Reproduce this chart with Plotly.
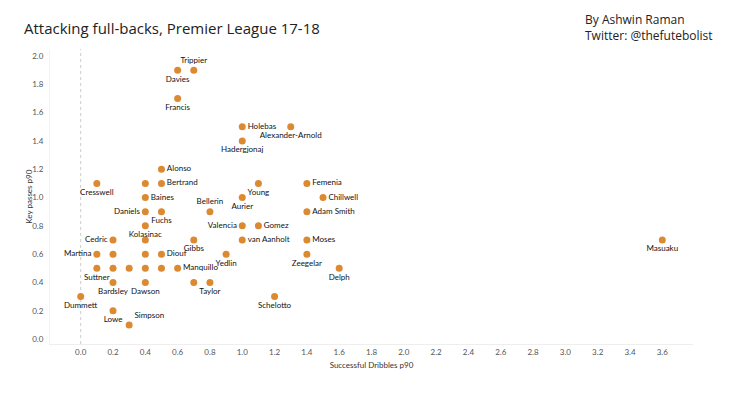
import plotly.graph_objects as go

players = ["Trippier", "Davies", "Francis", "Holebas", "Alexander-Arnold", "Hadergjonaj",
           "Alonso", "Bertrand", "", "Cresswell", "Young", "Femenia",
           "Baines", "Aurier", "Chillwell", "Daniels", "Fuchs", "Bellerin", "Adam Smith",
           "Kolasinac", "Valencia", "Gomez", "Cedric", "", "Gibbs", "van Aanholt", "Moses",
           "Masuaku", "Martina", "", "", "Diouf", "Yedlin", "Zeegelar",
           "Suttner", "", "", "", "", "Manquillo", "Delph",
           "Bardsley", "Dawson", "", "Taylor", "Dummett", "Schelotto", "Lowe", "Simpson"]
dribbles_p90 = [0.7, 0.6, 0.6, 1.0, 1.3, 1.0,
                0.5, 0.5, 0.4, 0.1, 1.1, 1.4,
                0.4, 1.0, 1.5, 0.4, 0.5, 0.8, 1.4,
                0.4, 1.0, 1.1, 0.2, 0.4, 0.7, 1.0, 1.4,
                3.6, 0.1, 0.2, 0.4, 0.5, 0.9, 1.4,
                0.1, 0.2, 0.3, 0.4, 0.5, 0.6, 1.6,
                0.2, 0.4, 0.7, 0.8, 0.0, 1.2, 0.2, 0.3]
key_passes_p90 = [1.9, 1.9, 1.7, 1.5, 1.5, 1.4,
                  1.2, 1.1, 1.1, 1.1, 1.1, 1.1,
                  1.0, 1.0, 1.0, 0.9, 0.9, 0.9, 0.9,
                  0.8, 0.8, 0.8, 0.7, 0.7, 0.7, 0.7, 0.7,
                  0.7, 0.6, 0.6, 0.6, 0.6, 0.6, 0.6,
                  0.5, 0.5, 0.5, 0.5, 0.5, 0.5, 0.5,
                  0.4, 0.4, 0.4, 0.4, 0.3, 0.3, 0.2, 0.1]
x_ticks = [round(i * 0.2, 1) for i in range(19)]
y_ticks = [round(i * 0.2, 1) for i in range(11)]

# label placement (style)
label_pos = ["top center", "bottom center", "bottom center", "middle right", "bottom center", "bottom center",
             "middle right", "middle right", "middle right", "bottom center", "bottom center", "middle right",
             "middle right", "bottom center", "middle right", "middle left", "bottom center", "top center", "middle right",
             "bottom center", "middle left", "middle right", "middle left", "middle right", "bottom center", "middle right", "middle right",
             "bottom center", "middle left", "middle right", "middle right", "middle right", "bottom center", "bottom center",
             "bottom center", "middle right", "middle right", "middle right", "middle right", "middle right", "bottom center",
             "bottom center", "bottom center", "middle right", "bottom center", "bottom center", "bottom center", "bottom center", "top right"]

LABEL_FONT = "Lato, 'Open Sans', sans-serif"

fig = go.Figure()
fig.add_trace(go.Scatter(
    x=dribbles_p90, y=key_passes_p90, text=players, mode="markers+text",
    textposition=label_pos,
    textfont=dict(family=LABEL_FONT, size=8, color="#111111"),
    marker=dict(size=7, color="#dc8a32", line=dict(width=0)),
    hoverinfo="skip", showlegend=False, cliponaxis=False,
))

fig.add_shape(type="line", xref="x", yref="paper", x0=0, x1=0, y0=0, y1=1,
              line=dict(color="#cccccc", width=1, dash="dot"), layer="below")

fig.update_layout(
    width=730, height=397,
    margin=dict(l=50, r=37, t=49, b=53),
    paper_bgcolor="white", plot_bgcolor="white",
    hovermode=False,
    font=dict(family=LABEL_FONT, color="#333"),
    xaxis=dict(range=[-0.19, 3.79], tickvals=x_ticks, ticktext=[f"{v:.1f}" for v in x_ticks],
               showgrid=False, zeroline=False, showline=True, linecolor="#eeeeee", linewidth=1,
               ticks="", tickfont=dict(size=8, color="#555"), automargin=False,
               title=dict(text="Successful Dribbles p90", font=dict(size=8, color="#333"), standoff=6)),
    yaxis=dict(range=[-0.035, 2.05], tickvals=y_ticks, ticktext=[f"{v:.1f}" for v in y_ticks],
               showgrid=False, zeroline=False, showline=True, linecolor="#f2f2f2", linewidth=1,
               ticks="", tickfont=dict(size=8, color="#555"), ticklabelstandoff=4, automargin=False),
    annotations=[
        dict(text="Key passes p90", xref="paper", yref="paper", x=-0.034, y=0.5,
             xanchor="center", yanchor="middle", textangle=-90, showarrow=False,
             font=dict(family=LABEL_FONT, size=8, color="#333")),
        dict(text="Attacking full-backs, Premier League 17-18", xref="paper", yref="paper",
             x=-0.0435, y=1.0, xanchor="left", yanchor="bottom", yshift=9, showarrow=False,
             font=dict(family="'Open Sans', sans-serif", size=15, color="#222")),
        dict(text="By Ashwin Raman<br>Twitter: @thefutebolist", xref="paper", yref="paper",
             x=0.829, y=1.0, xanchor="left", yanchor="bottom", yshift=3, showarrow=False, align="left",
             font=dict(family="'Open Sans', sans-serif", size=12, color="#222")),
    ],
)

fig.write_html("out.html", config={"displayModeBar": False},
               post_script="document.body.style.margin='0';")
